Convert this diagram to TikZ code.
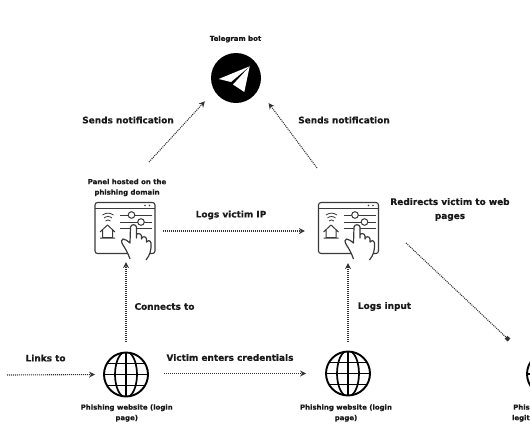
\documentclass[tikz,border=0pt]{standalone}
\usepackage{xcolor}
\usepackage{fontspec}
\setmainfont{DejaVu Sans}[BoldFeatures={FakeBold=0.4}]
\usetikzlibrary{
  arrows.meta,
  shapes.geometric,
  positioning,
  calc
}
\definecolor{phInk}{HTML}{1A1A1A}
\definecolor{phIcon}{HTML}{3A3A3A}
\definecolor{phDots}{HTML}{333333}
\tikzset{
  caption/.style={font=\fontsize{6.95}{10.5}\selectfont\bfseries, text=phInk, align=center, inner sep=0pt},
  steplabel/.style={font=\fontsize{8.95}{14}\selectfont\bfseries, text=phInk, align=center, inner sep=0pt},
  flow/.style={-{Stealth[length=6pt,width=6pt]}, line width=1.1pt, phDots, dash pattern=on 1pt off 1pt},
  flowend/.style={-{Square[length=4pt,width=4pt]}, line width=1.1pt, phDots, dash pattern=on 1pt off 1pt},
  botnode/.style={circle, fill=black, minimum size=50pt, inner sep=0pt},
  panelbox/.style={draw=phIcon, rounded corners=2.5pt, line width=1.1pt, minimum width=60pt, minimum height=51pt, inner sep=0pt},
  globe/.style={circle, draw=black, line width=1.9pt, minimum size=44pt, inner sep=0pt,
    path picture={
      \begin{scope}[shift={(path picture bounding box.center)}]
        \draw[line width=1.7pt] (0,0) ellipse (11 and 23);
        \draw[line width=1.7pt] (0,-23) -- (0,23);
        \draw[line width=1.7pt] (-23,0) -- (23,0);
        \draw[line width=1.7pt] (-23,-11) -- (23,-11);
        \draw[line width=1.7pt] (-23,11) -- (23,11);
      \end{scope}
    }
  },
  paneldetail/.pic={
    \draw[phIcon, line width=1pt] (-30,-20) -- (30,-20);
    \fill[phIcon] (20,-22.5) circle (0.8) (24.5,-22.5) circle (0.8);
    \draw[phIcon, line width=0.8pt] (-19.5,-7) .. controls (-18,-8.5) and (-16,-8.5) .. (-14.5,-7);
    \draw[phIcon, line width=0.8pt] (-21,-10) .. controls (-19,-12) and (-15,-12) .. (-13,-10);
    \draw[phIcon, line width=0.8pt] (-22.5,-13) .. controls (-19,-15.5) and (-15,-15.5) .. (-11.5,-13);
    \draw[phIcon, line width=1pt, line join=round] (-25,4) -- (-17.5,-3) -- (-10,4) (-22.5,2) -- (-22.5,9.5) -- (-12.5,9.5) -- (-12.5,2) (-25,10) -- (-10,10);
    \draw[phIcon, line width=1pt] (-5,-13) -- (27,-13) (-5,-6) -- (27,-6) (-5,0.5) -- (27,0.5);
    \draw[phIcon, line width=1pt, fill=white] (6.5,-13) circle (3.3) (16,-6) circle (3.3);
    \draw[phIcon, line width=1.2pt, fill=white, line join=round]
      (5,31) .. controls (3,25) and (0,20) .. (-2,17)
      .. controls (-4,14) and (-4,11) .. (-2,11)
      .. controls (0,11) and (3,13) .. (5,15)
      -- (5.5,-1) .. controls (6,-4) and (11,-4) .. (11.5,-1)
      -- (11.5,10) -- (11.5,7) .. controls (12,5) and (16,5) .. (16.5,8)
      -- (16.5,11) .. controls (17,8) and (21,8) .. (21.5,11)
      -- (21.5,14) .. controls (22,12) and (25.5,12) .. (26,15)
      .. controls (26.5,22) and (25,27) .. (21,32);
  },
  planedetail/.pic={
    \fill[white] (13.7,-11.7) -- (-17.3,1) -- (-5,4) -- cycle;
    \fill[white] (13.7,-11.7) -- (-3,6.5) -- (8.3,14) -- cycle;
  }
}
\begin{document}
\begin{tikzpicture}[x=1pt, y=-1pt]
  \useasboundingbox (0,0) rectangle (530,442);
  \node[botnode] (bot) at (236,78) {};
  \pic at (bot) {planedetail};
  \node[caption] (botlabel) at (235.5,39) {Telegram bot};
  \node[panelbox] (panel1) at (125,228) {};
  \pic at (panel1) {paneldetail};
  \node[panelbox] (panel2) at (348.5,228) {};
  \pic at (panel2) {paneldetail};
  \node[caption] (panellabel) at (127,187.5) {Panel hosted on the\\phishing domain};
  \node[globe] (web1) at (126,374.5) {};
  \node[globe] (web2) at (348,373.5) {};
  \node[globe] (web3) at (549,374) {};
  \node[caption] (weblabel1) at (126.7,413) {Phishing website (login\\page)};
  \node[caption] (weblabel2) at (346,413) {Phishing website (login\\page)};
  \node[caption, anchor=east, align=right] (weblabel3) at (530,413) {Phis\\legit};
  \coordinate (notifA) at (149,162);
  \coordinate (notifB) at (317,168);
  \coordinate (redirA) at (406,243);
  \coordinate (redirB) at (509,340);
  \coordinate (linksA) at (7,375);
  \draw[flow, shorten >=14pt] (notifA) -- (bot.211);
  \draw[flow, shorten >=17pt] (notifB) -- (bot.-27);
  \draw[flow, shorten <=7pt, shorten >=13pt] ([yshift=-3pt]panel1.east) -- ([yshift=-3pt]panel2.west);
  \draw[flow, shorten <=10pt, shorten >=8pt] (web1.north) -- (panel1.south -| web1.north);
  \draw[flow, shorten <=9pt, shorten >=9pt] (web2.north) -- (panel2.south -| web2.north);
  \draw[flow, shorten >=8pt] (linksA) -- (web1.west);
  \draw[flow, shorten <=15pt, shorten >=19pt] (web1.east |- web2.west) -- (web2.west);
  \draw[flowend] (redirA) -- (redirB);
  \node[steplabel] (sendsA) at (128,120) {Sends notification};
  \node[steplabel] (sendsB) at (344,120) {Sends notification};
  \node[steplabel] (logsip) at (231,215) {Logs victim IP};
  \node[steplabel] (redirects) at (450,209.5) {Redirects victim to web\\pages};
  \node[steplabel] (connects) at (164.5,306.5) {Connects to};
  \node[steplabel] (logsinput) at (384.5,306.5) {Logs input};
  \node[steplabel] (links) at (45.6,358) {Links to};
  \node[steplabel] (victim) at (230,357.5) {Victim enters credentials};
\end{tikzpicture}
\end{document}
